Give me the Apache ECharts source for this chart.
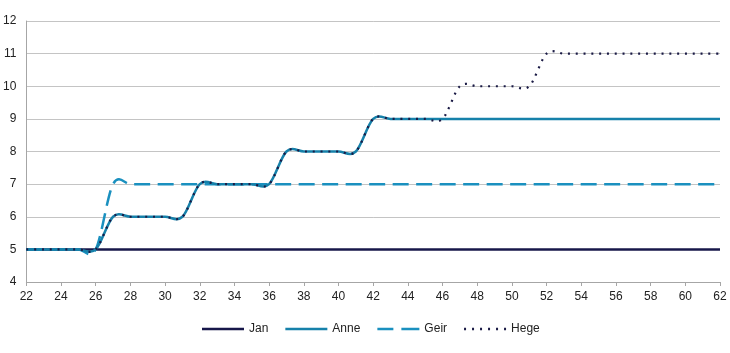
<!DOCTYPE html>
<html>
<head>
<meta charset="utf-8">
<script src="https://cdn.jsdelivr.net/npm/echarts@6/dist/echarts.min.js"></script>
<style>
  html, body { margin: 0; padding: 0; background: #fff; }
  #chart { width: 730px; height: 353px; }
</style>
</head>
<body>
<div id="chart"></div>
<script>
// alder 22-62
var ages = [];
for (var a = 22; a <= 62; a++) ages.push(String(a));

var jan = [5,5,5,5,5,5,5,5,5,5,5,5,5,5,5,5,5,5,5,5,5,5,5,5,5,5,5,5,5,5,5,5,5,5,5,5,5,5,5,5,5];
var anne = [5,5,5,5,5,6,6,6,6,6,7,7,7,7,7,8,8,8,8,8,9,9,9,9,9,9,9,9,9,9,9,9,9,9,9,9,9,9,9,9,9];
var geir = [5,5,5,5,5,7,7,7,7,7,7,7,7,7,7,7,7,7,7,7,7,7,7,7,7,7,7,7,7,7,7,7,7,7,7,7,7,7,7,7,7];
var hege = [5,5,5,5,5,6,6,6,6,6,7,7,7,7,7,8,8,8,8,8,9,9,9,9,9,10,10,10,10,10,11,11,11,11,11,11,11,11,11,11,11];

var chart = echarts.init(document.getElementById('chart'));
var font = 'Liberation Sans, Arial, sans-serif';

// glattet linje som i Excel (Catmull-Rom), punkt via aksene
function smoothLine(values, color, width, dash) {
  return function (params, api) {
    if (params.dataIndex !== 0) return null;
    var p = values.map(function (v, i) { return api.coord([i, v]); });
    var d = 'M' + p[0][0] + ',' + p[0][1];
    for (var i = 0; i < p.length - 1; i++) {
      var p0 = p[Math.max(i - 1, 0)], p1 = p[i], p2 = p[i + 1], p3 = p[Math.min(i + 2, p.length - 1)];
      var c1x = p1[0] + (p2[0] - p0[0]) / 6, c1y = p1[1] + (p2[1] - p0[1]) / 6;
      var c2x = p2[0] - (p3[0] - p1[0]) / 6, c2y = p2[1] - (p3[1] - p1[1]) / 6;
      d += 'C' + c1x + ',' + c1y + ',' + c2x + ',' + c2y + ',' + p2[0] + ',' + p2[1];
    }
    return {
      type: 'path',
      shape: { pathData: d },
      style: { fill: 'none', stroke: color, lineWidth: width, lineDash: dash || null, lineCap: 'butt' }
    };
  };
}

function makeSeries(name, values, color, width, dash, z) {
  return {
    name: name,
    type: 'custom',
    z: z,
    itemStyle: { color: color },
    data: values.map(function (v, i) { return [i, v]; }),
    encode: { x: 0, y: 1 },
    renderItem: smoothLine(values, color, width, dash)
  };
}

chart.setOption({
  animation: false,
  grid: { left: 25, right: 10, top: 21, bottom: 71 },
  legend: {
    bottom: 13,
    left: 197,
    itemWidth: 42,
    itemHeight: 2.5,
    itemGap: 17,
    symbolKeepAspect: false,
    textStyle: { fontFamily: font, fontSize: 12, color: '#222' },
    data: [
      { name: 'Jan', icon: 'rect' },
      { name: 'Anne', icon: 'rect' },
      { name: 'Geir', icon: 'path://M0,0h16v2.5h-16zM24,0h18v2.5h-18z' },
      { name: 'Hege', icon: 'path://M0,0h2v2.5h-2zM8,0h2v2.5h-2zM16,0h2v2.5h-2zM24,0h2v2.5h-2zM32,0h2v2.5h-2zM40,0h2v2.5h-2z' }
    ]
  },
  xAxis: {
    type: 'category',
    data: ages,
    boundaryGap: false,
    axisLine: { lineStyle: { color: '#a6a6a6', width: 1 } },
    axisTick: { interval: 1, length: 4, inside: false, lineStyle: { color: '#a6a6a6' } },
    axisLabel: { interval: 1, margin: 9, fontFamily: font, fontSize: 12, color: '#222' },
    splitLine: { show: false }
  },
  yAxis: {
    type: 'value',
    min: 4, max: 12, interval: 1,
    axisLine: { show: true, lineStyle: { color: '#a6a6a6', width: 1 } },
    axisTick: { show: false },
    axisLabel: { margin: 10, fontFamily: font, fontSize: 12, color: '#222' },
    splitLine: { lineStyle: { color: '#c4c4c4', width: 1 } }
  },
  series: [
    makeSeries('Jan', jan, '#17174a', 2.5, null, 1),
    makeSeries('Anne', anne, '#1681aa', 2.5, null, 3),
    makeSeries('Geir', geir, '#1a90bf', 2.5, [16, 7.5], 2),
    makeSeries('Hege', hege, '#1a1a45', 2.2, [2, 5.8], 4)
  ]
});
</script>
</body>
</html>
